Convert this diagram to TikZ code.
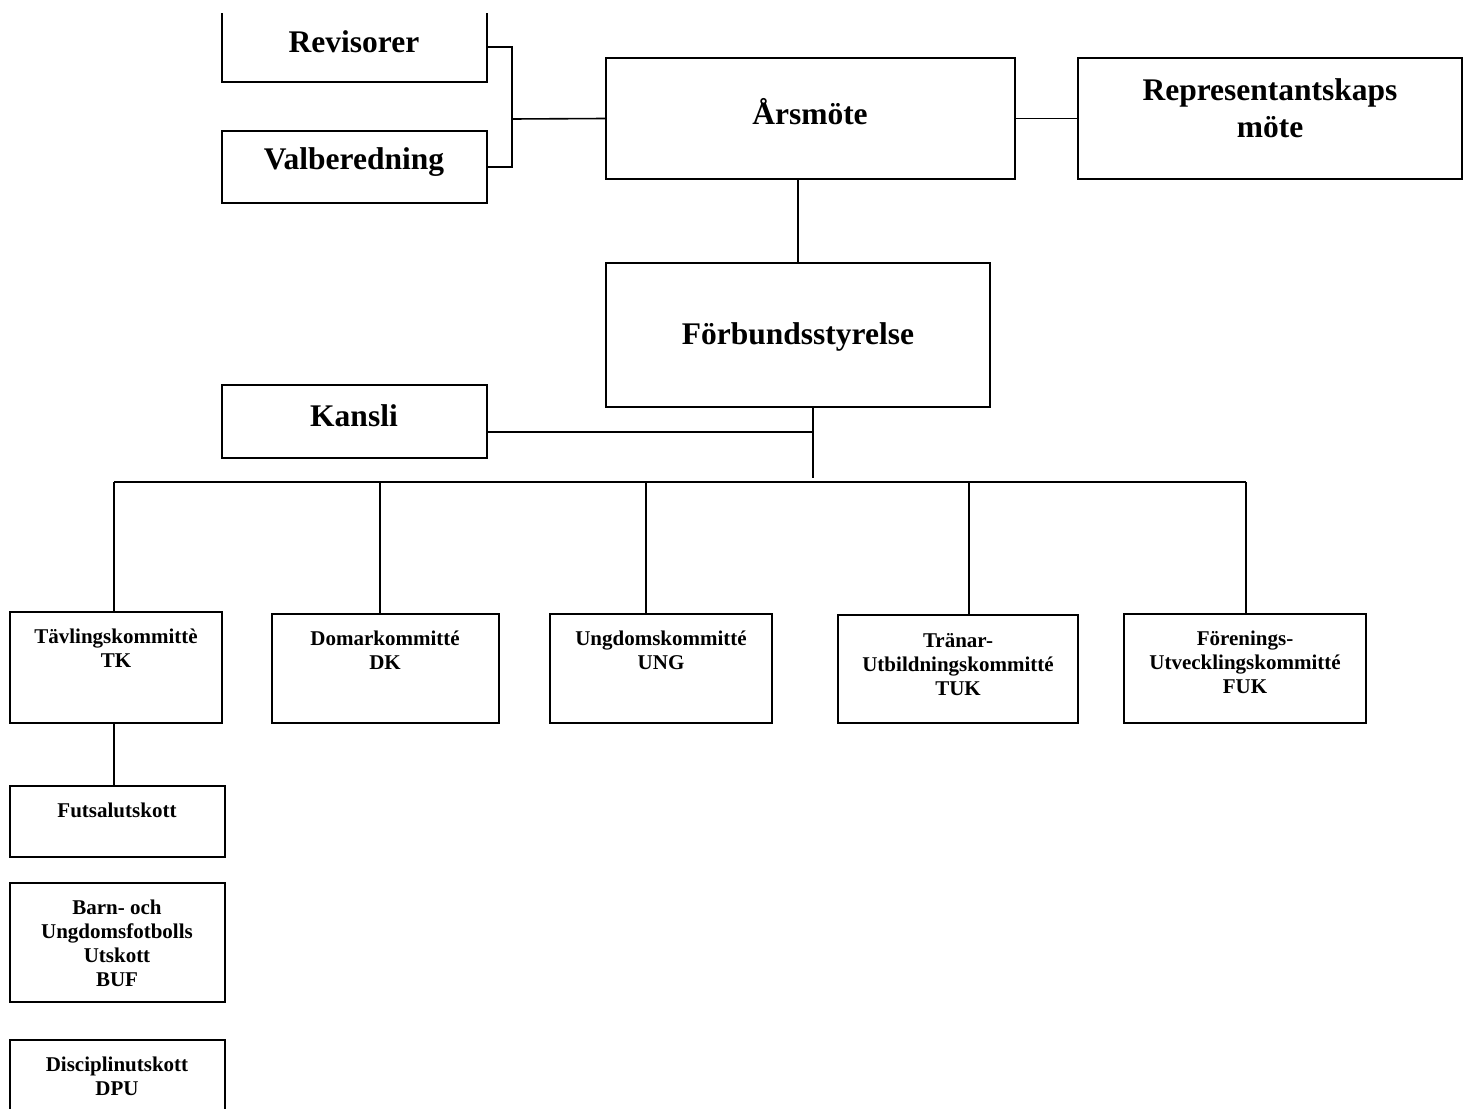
\documentclass[tikz,border=0pt]{standalone}
\usepackage{fontspec}
\setmainfont{Liberation Serif}
\begin{document}
\begin{tikzpicture}[x=1pt,y=-1pt,
  box/.style={draw,line width=1.6pt,rectangle,inner sep=0pt},
  ln/.style={line width=1.6pt},
  big/.style={font=\fontsize{31.5}{37}\selectfont\bfseries,align=center,inner sep=0pt},
  small/.style={font=\fontsize{21}{24}\selectfont\bfseries,align=center,inner sep=0pt}]
\useasboundingbox[fill=white] (0,0) rectangle (1471,1108);
\begin{scope}
\clip (0,13.5) rectangle (1471,1108);
\node[box,minimum width=265pt,minimum height=70pt] (rev) at (354.5,47) {};
\node[box,minimum width=215pt,minimum height=120pt] (dpu) at (117.5,1100) {};
\end{scope}
\node[box,minimum width=265pt,minimum height=72pt] (val) at (354.5,167) {};
\node[box,minimum width=409pt,minimum height=121pt] (ars) at (810.5,118.5) {};
\node[box,minimum width=384pt,minimum height=121pt] (rep) at (1270,118.5) {};
\node[box,minimum width=384pt,minimum height=144pt] (forb) at (798,335) {};
\node[box,minimum width=265pt,minimum height=73pt] (kansli) at (354.5,421.5) {};
\node[box,minimum width=212pt,minimum height=111pt] (tk) at (116,667.5) {};
\node[box,minimum width=227pt,minimum height=109pt] (dk) at (385.5,668.5) {};
\node[box,minimum width=222pt,minimum height=109pt] (ung) at (661,668.5) {};
\node[box,minimum width=240pt,minimum height=108pt] (tuk) at (958,669) {};
\node[box,minimum width=242pt,minimum height=109pt] (fuk) at (1245,668.5) {};
\node[box,minimum width=215pt,minimum height=71pt] (fut) at (117.5,821.5) {};
\node[box,minimum width=215pt,minimum height=119pt] (buf) at (117.5,942.5) {};
% texts
\node[big] (trev) at (354,42) {Revisorer};
\node[big] (tval) at (354,162) {Valberedning};
\node[big] (tars) at (810,112) {Årsmöte};
\node[big] (trep) at (1270,108.5) {Representantskaps\\möte};
\node[big] (tforb) at (798,337) {Förbundsstyrelse};
\node[big] (tkansli) at (354,416) {Kansli};
\node[small] (ttk) at (116,648.5) {Tävlingskommittè\\TK};
\node[small] (tdk) at (385,650.5) {Domarkommitté\\DK};
\node[small] (tung) at (661,650.5) {Ungdomskommitté\\UNG};
\node[small] (ttuk) at (958,664.5) {Tränar-\\Utbildningskommitté\\TUK};
\node[small] (tfuk) at (1245,662.5) {Förenings-\\Utvecklingskommitté\\FUK};
\node[small] (tfut) at (117,810) {Futsalutskott};
\node[small] (tbuf) at (117,943.5) {Barn- och\\Ungdomsfotbolls\\Utskott\\BUF};
\node[small] (tdpu) at (117,1076.5) {Disciplinutskott\\DPU};
% connectors
\coordinate (bj) at (512,119);
\draw[ln] (rev.east) -| (bj) |- (val.east);
\draw[ln] (bj) -- (ars.west);
\draw[ln] (ars.east) -- (rep.west);
\draw[ln] (forb.north |- ars.south) -- (forb.north);
\coordinate (fj) at (813,407);
\coordinate (bj2) at (813,478);
\draw[ln] (fj) -- (bj2);
\draw[ln] ([yshift=-10.5pt]kansli.east) -- (bj2 |- 0,432);
\coordinate (d1) at (114,482);
\coordinate (d2) at (380,482);
\coordinate (d3) at (646,482);
\coordinate (d4) at (969,482);
\coordinate (d5) at (1246,482);
\draw[ln] (d1) -- (d5);
\draw[ln] (d1) -- (d1 |- tk.north);
\draw[ln] (d2) -- (d2 |- dk.north);
\draw[ln] (d3) -- (d3 |- ung.north);
\draw[ln] (d4) -- (d4 |- tuk.north);
\draw[ln] (d5) -- (d5 |- fuk.north);
\draw[ln] (d1 |- tk.south) -- (d1 |- fut.north);
\end{tikzpicture}
\end{document}
